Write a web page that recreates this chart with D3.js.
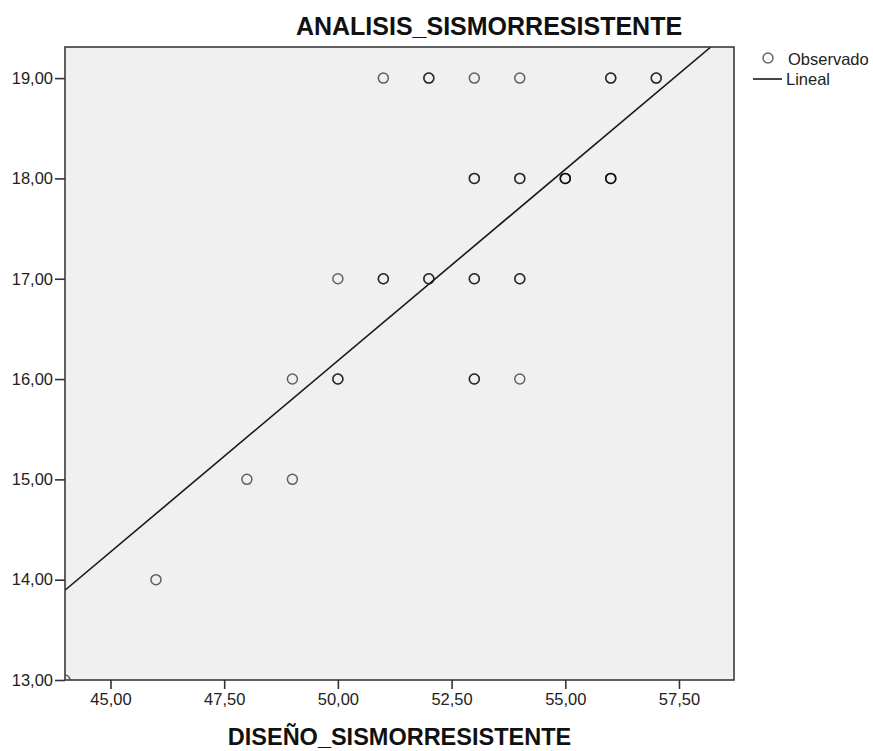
<!DOCTYPE html>
<html>
<head>
<meta charset="utf-8">
<script src="https://cdn.jsdelivr.net/npm/d3@7"></script>
<style>
    body { margin: 0; background: #fff; }
    text { font-family: "Liberation Sans", Arial, sans-serif; }
</style>
</head>
<body>
<svg width="873" height="751"></svg>
<script>
// observed points (x, y) and how many cases share each spot
var obsX = [51, 52, 53, 54, 56, 57, 53, 54, 55, 56, 50, 51, 52, 53, 54, 49, 50, 53, 54, 48, 49, 46, 44];
var obsY = [19, 19, 19, 19, 19, 19, 18, 18, 18, 18, 17, 17, 17, 17, 17, 16, 16, 16, 16, 15, 15, 14, 13];
var obsN = [1, 2, 1, 1, 2, 2, 2, 2, 3, 3, 1, 2, 2, 2, 2, 1, 2, 2, 1, 1, 1, 1, 1];

// linear fit at both ends
var fitX = [44, 58.2];
var fitY = [13.895, 19.31];

var xTicks = [45, 47.5, 50, 52.5, 55, 57.5];
var yTicks = [13, 14, 15, 16, 17, 18, 19];
var legendLabels = ["Observado", "Lineal"];

(function(d3) {
    "use strict";

    var svg = d3.select("svg"),
        left = 65, right = 734, top = 47, bottom = 680,
        x = d3.scaleLinear().domain([44, 58.71]).range([left, right]),
        y = d3.scaleLinear().domain([13, 19.31]).range([bottom, top]),
        fmt = d3.formatLocale({decimal: ",", thousands: ".", grouping: [3], currency: ["", ""]}).format(".2f");

    svg.append("defs").append("clipPath").attr("id", "plot")
        .append("rect").attr("x", left).attr("y", top)
        .attr("width", right - left).attr("height", bottom - top);

    svg.append("rect")
        .attr("x", left).attr("y", top)
        .attr("width", right - left).attr("height", bottom - top)
        .attr("fill", "#f0f0f0");

    // points, one circle per case so shared spots come out darker
    var cases = [];
    obsX.forEach(function(v, i) {
        for (var k = 0; k < obsN[i]; k++) cases.push({x: v, y: obsY[i]});
    });

    var plot = svg.append("g").attr("clip-path", "url(#plot)");

    plot.selectAll(".dot").data(cases).enter().append("circle")
        .attr("class", "dot")
        .attr("cx", function(d) { return x(d.x); })
        .attr("cy", function(d) { return y(d.y); })
        .attr("r", 5)
        .attr("fill", "none")
        .attr("stroke", "#000")
        .attr("stroke-opacity", 0.6)
        .attr("stroke-width", 1.5);

    plot.append("line")
        .attr("x1", x(fitX[0])).attr("y1", y(fitY[0]))
        .attr("x2", x(fitX[1])).attr("y2", y(fitY[1]))
        .attr("stroke", "#1a1a1a")
        .attr("stroke-width", 1.6);

    svg.append("rect")
        .attr("x", left).attr("y", top)
        .attr("width", right - left).attr("height", bottom - top)
        .attr("fill", "none")
        .attr("stroke", "#3a3a3a")
        .attr("stroke-width", 1.6);

    var xAxis = svg.append("g")
        .attr("transform", "translate(0," + bottom + ")")
        .call(d3.axisBottom(x).tickValues(xTicks).tickFormat(fmt).tickSize(9).tickPadding(4));

    var yAxis = svg.append("g")
        .attr("transform", "translate(" + left + ",0)")
        .call(d3.axisLeft(y).tickValues(yTicks).tickFormat(fmt).tickSize(10).tickPadding(2));

    [xAxis, yAxis].forEach(function(a) {
        a.select(".domain").remove();
        a.selectAll(".tick line").attr("stroke", "#333").attr("stroke-width", 1.6);
        a.selectAll(".tick text")
            .attr("fill", "#222")
            .style("font-size", "16.5px")
            .style("font-family", "'Liberation Sans', Arial, sans-serif");
    });

    svg.append("text")
        .attr("x", 489).attr("y", 35)
        .attr("text-anchor", "middle")
        .attr("font-weight", "bold")
        .attr("font-size", 25)
        .attr("fill", "#111")
        .text("ANALISIS_SISMORRESISTENTE");

    svg.append("text")
        .attr("x", (left + right) / 2).attr("y", 745)
        .attr("text-anchor", "middle")
        .attr("font-weight", "bold")
        .attr("font-size", 23.5)
        .attr("fill", "#111")
        .text("DISEÑO_SISMORRESISTENTE");

    // legend
    var legend = svg.append("g");

    legend.append("circle")
        .attr("cx", 768).attr("cy", 58).attr("r", 5)
        .attr("fill", "none")
        .attr("stroke", "#000")
        .attr("stroke-opacity", 0.6)
        .attr("stroke-width", 1.5);

    legend.append("line")
        .attr("x1", 753).attr("x2", 782)
        .attr("y1", 79).attr("y2", 79)
        .attr("stroke", "#1a1a1a")
        .attr("stroke-width", 1.6);

    legend.selectAll(".lab").data(legendLabels).enter().append("text")
        .attr("class", "lab")
        .attr("x", function(d, i) { return i ? 786 : 788; })
        .attr("y", function(d, i) { return 65 + i * 20; })
        .attr("font-size", 16.5)
        .attr("fill", "#222")
        .text(function(d) { return d; });

}(d3));
</script>
</body>
</html>
